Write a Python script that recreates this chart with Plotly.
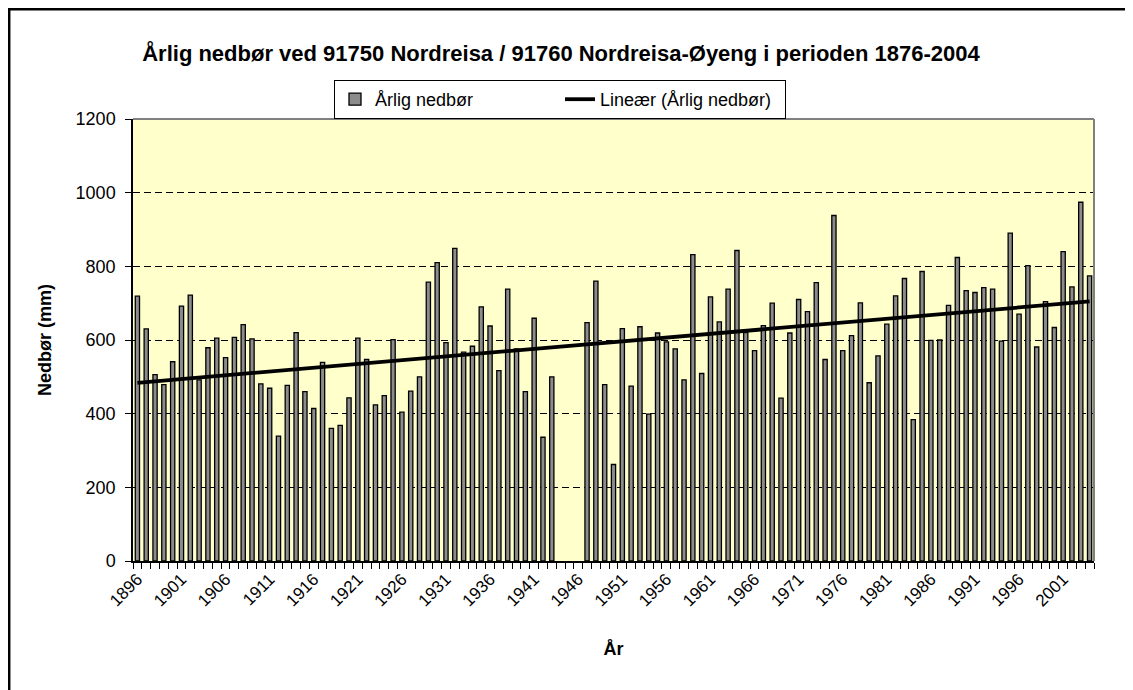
import numpy as np
import plotly.graph_objects as go

# ---- data ----
years = list(range(1896, 2005))
precip = [
    719, 630, 506, 479, 541, 692, 722, 492, 579, 605,   # 1896-1905
    552, 607, 642, 603, 481, 469, 339, 477, 620, 460,   # 1906-1915
    414, 539, 360, 368, 443, 605, 547, 424, 449, 601,   # 1916-1925
    404, 461, 500, 757, 810, 593, 849, 567, 583, 690,   # 1926-1935
    638, 517, 738, 576, 460, 659, 336, 500, 0, 0,       # 1936-1945
    0, 647, 760, 479, 262, 631, 475, 636, 399, 619,     # 1946-1955
    595, 576, 492, 832, 509, 717, 649, 738, 843, 620,   # 1956-1965
    571, 639, 700, 442, 619, 710, 677, 756, 547, 938,   # 1966-1975
    571, 612, 701, 484, 557, 643, 720, 767, 384, 786,   # 1976-1985
    599, 600, 694, 824, 734, 729, 742, 738, 597, 890,   # 1986-1995
    670, 802, 581, 704, 634, 840, 744, 974, 774,        # 1996-2004
]
tick_years = years[::5]
tick_labels = [str(y) for y in tick_years]
yticks = [0, 200, 400, 600, 800, 1000, 1200]

title_text = "Årlig nedbør ved 91750 Nordreisa / 91760 Nordreisa-Øyeng i perioden 1876-2004"
bar_name = "Årlig nedbør"
trend_name = "Lineær (Årlig nedbør)"

# linear trend (as Excel's linear trendline) computed from the data
slope, intercept = np.polyfit(np.array(years, dtype=float), np.array(precip, dtype=float), 1)
trend = [slope * y + intercept for y in years]

FONT = "Arial, 'Liberation Sans', sans-serif"
W, H = 1133, 690
L, R, T, B = 125, 47, 111, 137
PW, PH = W - L - R, H - T - B

def px2paper_x(px):
    return (px - L) / PW

def px2paper_y(py):
    return (H - B - py) / PH

# no outline on empty years (value 0)
outline_w = [0 if v == 0 else 1.3 for v in precip]

fig = go.Figure()
fig.add_trace(go.Bar(
    x=years, y=precip, name=bar_name,
    marker=dict(color="#8C8C8C", line=dict(color="black", width=outline_w)),
))
fig.add_trace(go.Scatter(
    x=years, y=trend, name=trend_name, mode="lines",
    line=dict(color="black", width=3.8),
))

fig.update_layout(
    width=W, height=H,
    margin=dict(l=L, r=R, t=T, b=B),
    paper_bgcolor="white",
    plot_bgcolor="#FFFFCC",
    bargap=0.52,
    font=dict(family=FONT, size=18, color="black"),
    title=dict(
        text="<b>" + title_text + "</b>",
        x=px2paper_x(553), xref="paper", xanchor="center",
        y=1 - 45 / H, yref="container", yanchor="middle",
        font=dict(family=FONT, size=22, color="black"),
    ),
    showlegend=True,
    legend=dict(
        orientation="h",
        x=px2paper_x(552), xanchor="center",
        y=px2paper_y(72), yanchor="top",
        bordercolor="black", borderwidth=1, bgcolor="white",
        font=dict(family=FONT, size=18, color="black"),
        traceorder="normal",
        entrywidth=180,
    ),
    xaxis=dict(
        range=[1895.5, 2004.5],
        tickmode="array", tickvals=tick_years, ticktext=tick_labels,
        tickangle=-45, ticks="",
        tickfont=dict(family=FONT, size=17, color="black"),
        showline=True, linecolor="black", linewidth=1.5,
        showgrid=False, zeroline=False,
        minor=dict(ticks="outside", ticklen=6, tickcolor="black", tickwidth=1,
                   tick0=1895.5, dtick=1, showgrid=False),
        title=dict(text="<b>År</b>", standoff=33,
                   font=dict(family=FONT, size=18, color="black")),
    ),
    yaxis=dict(
        range=[0, 1200],
        tickmode="array", tickvals=yticks,
        ticks="outside", ticklen=6, tickcolor="black", tickwidth=1,
        ticklabelstandoff=6,
        tickfont=dict(family=FONT, size=18, color="black"),
        showline=True, linecolor="black", linewidth=1.5,
        showgrid=True, gridcolor="black", gridwidth=1, griddash="7px,4px",
        zeroline=False,
        title=dict(text="<b>Nedbør (mm)</b>", standoff=19,
                   font=dict(family=FONT, size=18, color="black")),
    ),
    shapes=[
        # plot-area top and right border (grey)
        dict(type="line", xref="paper", yref="paper", x0=0, x1=1, y0=1, y1=1,
             line=dict(color="#808080", width=2), layer="above"),
        dict(type="line", xref="paper", yref="paper", x0=1, x1=1, y0=0, y1=1,
             line=dict(color="#808080", width=2), layer="above"),
        # outer chart frame
        dict(type="rect", xref="paper", yref="paper",
             x0=px2paper_x(1.2), x1=px2paper_x(W + 20),
             y0=px2paper_y(H + 20), y1=px2paper_y(1.2),
             line=dict(color="black", width=2.5), fillcolor="rgba(0,0,0,0)",
             layer="above"),
    ],
)

fig.write_html("out.html")
